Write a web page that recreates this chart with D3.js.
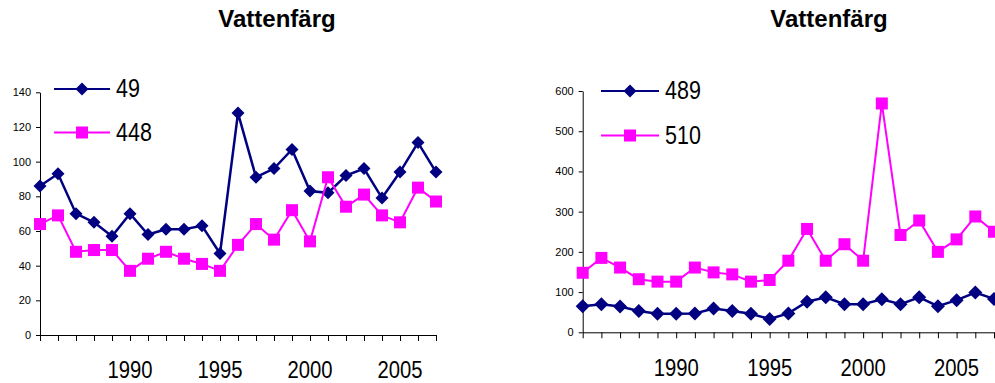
<!DOCTYPE html>
<html><head><meta charset="utf-8">
<script src="https://cdn.jsdelivr.net/npm/d3@7"></script>
<style>
html,body{margin:0;padding:0;background:#fff;}
svg{display:block;font-family:"Liberation Sans",Arial,sans-serif;}
</style></head>
<body>
<svg id="chart" width="995" height="383"></svg>
<script>
const years = [1985,1986,1987,1988,1989,1990,1991,1992,1993,1994,1995,1996,1997,1998,1999,2000,2001,2002,2003,2004,2005,2006,2007];
const xLabels = [1990,1995,2000,2005];
const title = "Vattenfärg";

const leftNames = ["49","448"];
const s49  = [86,93,70,65,57,70,58,61,61,63,47,128,91,96,107,83,82,92,96,79,94,111,94];
const s448 = [64,69,48,49,49,37,44,48,44,41,37,52,64,55,72,54,91,74,81,69,65,85,77];
const leftTicks = [0,20,40,60,80,100,120,140];

const rightNames = ["489","510"];
const s489 = [65,70,64,53,46,46,47,59,53,46,33,47,76,87,70,70,82,70,87,65,80,99,83];
const s510 = [148,185,161,132,126,126,161,149,144,126,130,178,257,178,219,178,569,242,278,200,231,288,250];
const rightTicks = [0,100,200,300,400,500,600];

const NAVY = "#000080", MAG = "#FF00FF";
const svg = d3.select("#chart");

function diamond(r){ return `M0,${-r}L${r},0L0,${r}L${-r},0Z`; }
function square(h){ return `M${-h},${-h}H${h}V${h}H${-h}Z`; }

function drawChart(cfg){
  const g = svg.append("g");
  const x = d3.scalePoint().domain(years).range([cfg.x0, cfg.x1]);
  const y = d3.scaleLinear().domain([0, cfg.ticks[cfg.ticks.length-1]]).range([cfg.y0, cfg.y1]);

  // title
  g.append("text").attr("x", cfg.titleX).attr("y", 27).attr("text-anchor","middle")
    .attr("font-size", 24).attr("font-weight","bold").attr("fill","#000").text(title);

  // y axis
  const ya = g.append("g").attr("transform", `translate(${cfg.x0},0)`)
    .call(d3.axisLeft(y).tickValues(cfg.ticks).tickSize(4).tickSizeOuter(0).tickPadding(5));
  ya.selectAll("text").attr("font-size", 11).attr("fill","#000").attr("font-family","Liberation Sans, Arial, sans-serif");
  ya.selectAll("line,path").attr("stroke","#000");

  // x axis
  const xa = g.append("g").attr("transform", `translate(0,${cfg.y0})`)
    .call(d3.axisBottom(x).tickSize(6).tickSizeOuter(0).tickFormat(""));
  xa.selectAll("line,path").attr("stroke","#000");
  g.selectAll(".xl").data(xLabels).enter().append("text")
    .attr("transform", d => `translate(${x(d)},${cfg.labelY}) scale(0.88,1)`)
    .attr("text-anchor","middle").attr("font-size", 23).attr("fill","#000").text(d => d);

  const series = [
    {vals: cfg.a, color: NAVY, w: 2.5, m: diamond(cfg.dr)},
    {vals: cfg.b, color: MAG, w: 2, m: square(6)}
  ];
  // draw magenta first? Excel draws series in order; navy first then magenta on top
  series.forEach(s => {
    const line = d3.line().x((d,i) => x(years[i])).y(d => y(d));
    g.append("path").attr("d", line(s.vals)).attr("fill","none").attr("stroke", s.color).attr("stroke-width", s.w).attr("stroke-linejoin","miter");
    g.selectAll(null).data(s.vals).enter().append("path")
      .attr("d", s.m).attr("fill", s.color)
      .attr("transform", (d,i) => `translate(${x(years[i])},${y(d)})`);
  });

  // legend
  const lg = [
    {name: cfg.names[0], color: NAVY, m: diamond(6.5), y: cfg.legY[0]},
    {name: cfg.names[1], color: MAG, m: square(6), y: cfg.legY[1]}
  ];
  lg.forEach(l => {
    g.append("line").attr("x1", cfg.legX[0]).attr("x2", cfg.legX[1]).attr("y1", l.y).attr("y2", l.y)
      .attr("stroke", l.color).attr("stroke-width", 2);
    g.append("path").attr("d", l.m).attr("fill", l.color)
      .attr("transform", `translate(${(cfg.legX[0]+cfg.legX[1])/2},${l.y})`);
    g.append("text").attr("transform", `translate(${cfg.legX[1]+6},${l.y+8}) scale(0.86,1)`)
      .attr("font-size", 25).attr("fill","#000").text(l.name);
  });
}

drawChart({x0:40, x1:436, y0:335, y1:92.3, ticks:leftTicks, a:s49, b:s448, names:leftNames,
  titleX:277, labelY:378, legX:[54,110], legY:[89,132.5], dr:6.5});
drawChart({x0:582.7, x1:994, y0:332.3, y1:91, ticks:rightTicks, a:s489, b:s510, names:rightNames,
  titleX:829, labelY:376, legX:[601,659], legY:[91,135.5], dr:7});
</script>
</body></html>
